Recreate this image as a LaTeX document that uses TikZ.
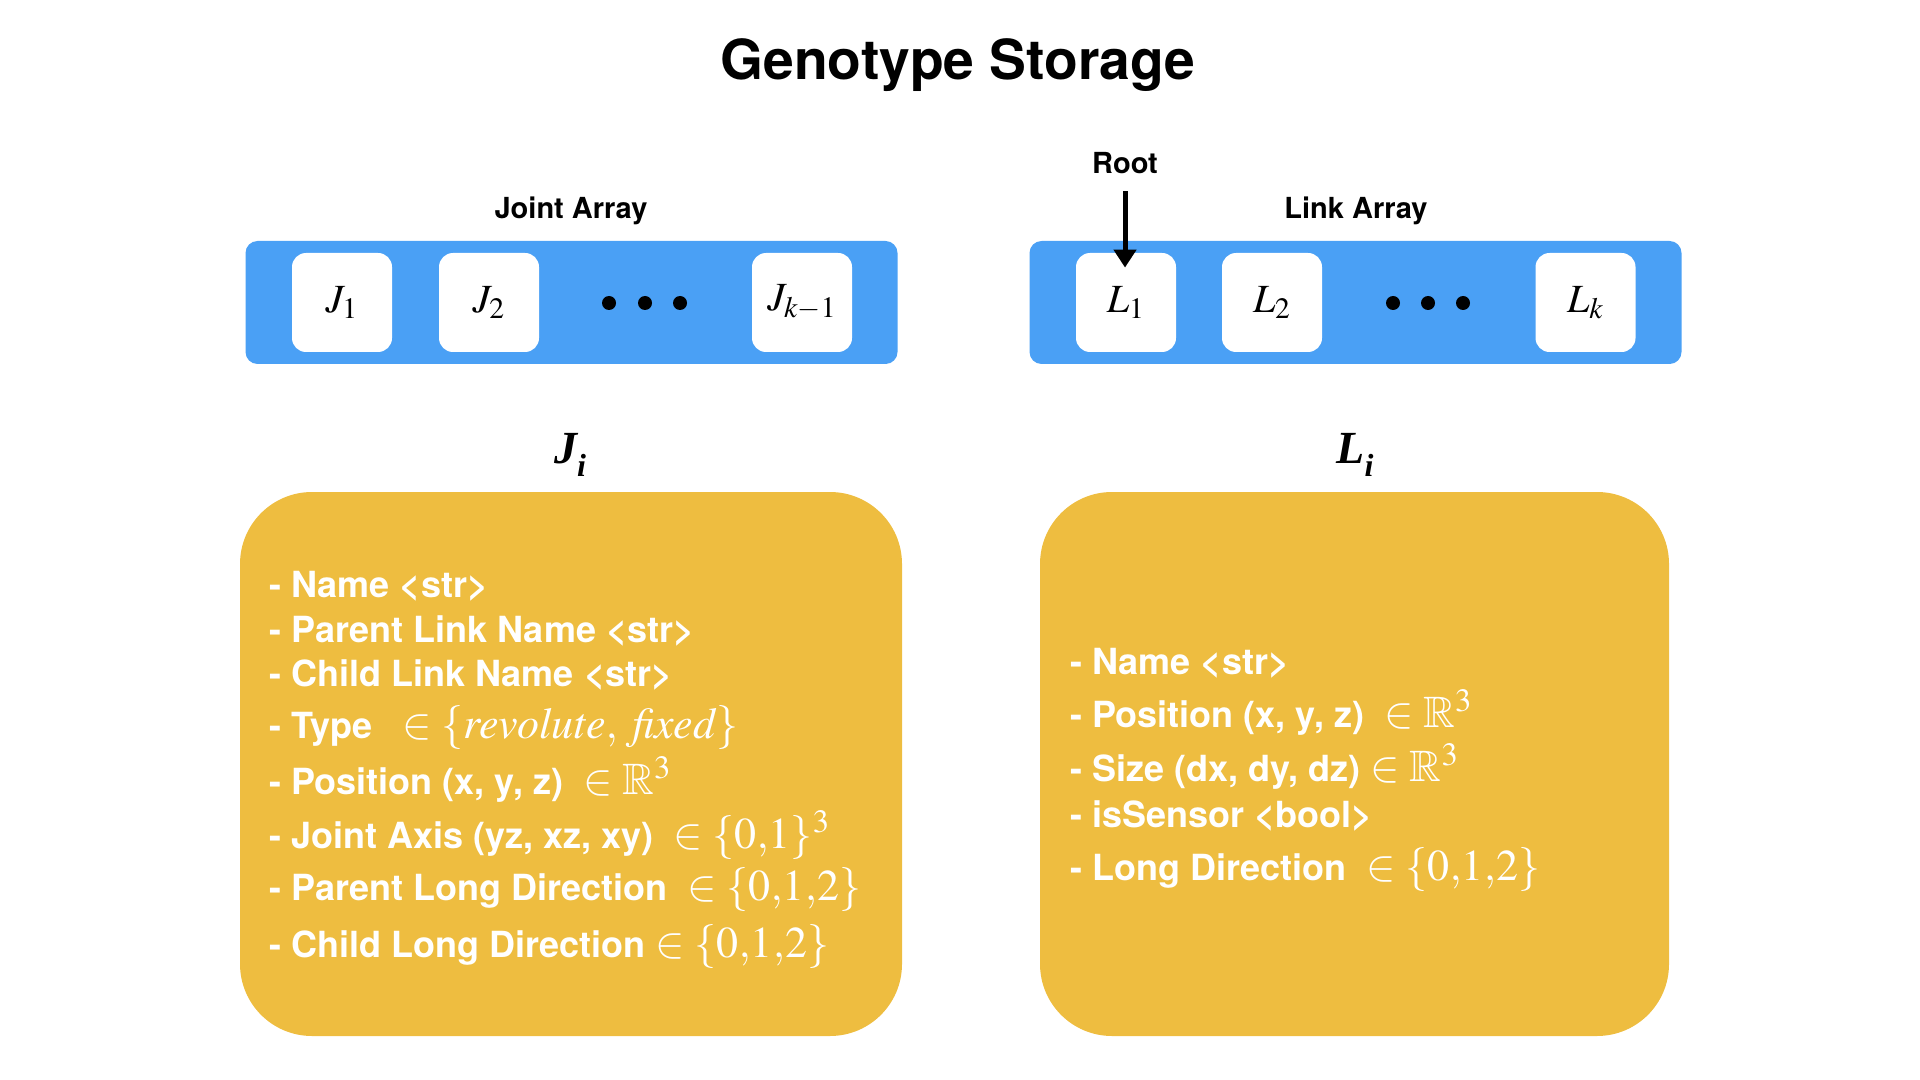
\documentclass[tikz,border=0pt]{standalone}
\usepackage{amsmath,amssymb}
\usepackage{mathptmx}
\usepackage[no-math]{fontspec}
\setmainfont{TeX Gyre Heros}
\newfontfamily\recfont{Liberation Serif}
\usepackage{xcolor}
\usepackage{tikz}
\usetikzlibrary{arrows.meta,positioning}
\definecolor{arrblue}{HTML}{4AA0F5}
\definecolor{recgold}{HTML}{EEBD40}
\newcommand{\mth}[1]{{\fontsize{22}{26}\selectfont$#1$}}
\newcommand{\rectitle}[1]{{\recfont\bfseries\itshape #1\raisebox{-0.3em}{\fontsize{16}{18}\selectfont i}}}

\begin{document}
\begin{tikzpicture}[x=0.5pt,y=-0.5pt,
  arr/.style={rectangle,rounded corners=6pt,fill=arrblue,minimum width=326pt,minimum height=61.5pt,inner sep=0pt},
  cell/.style={rectangle,rounded corners=7pt,fill=white,minimum width=50pt,minimum height=49.5pt,inner sep=0pt,font=\fontsize{20}{24}\selectfont},
  rec/.style={rectangle,rounded corners=36pt,fill=recgold,minimum height=272pt,inner sep=0pt},
  lbl/.style={font=\fontsize{14.5}{17}\selectfont\bfseries,anchor=base},
  fld/.style={anchor=base west,inner sep=0pt,text=white,font=\fontsize{18}{22}\selectfont\bfseries}]
 \useasboundingbox (0,0) rectangle (1920,1080);
 \node[font=\fontsize{27.6}{32}\selectfont\bfseries,anchor=base] (title) at (958,80) {Genotype Storage};
 % arrays
 \node[arr] (jarr) at (571.5,302.5) {};
 \node[arr] (larr) at (1355.5,302.5) {};
 \node[lbl] (jlab) at (571,219) {Joint Array};
 \node[lbl] (llab) at (1356,219) {Link Array};
 \node[cell] (j1) at (342,302.5) {$J_1$};
 \node[cell] (j2) at (489,302.5) {$J_2$};
 \node[cell] (jk) at (802,302.5) {$J_{k-1}$};
 \node[cell] (l1) at (1126,302.5) {$L_1$};
 \node[cell] (l2) at (1272,302.5) {$L_2$};
 \node[cell] (lk) at (1585.5,302.5) {$L_k$};
 \foreach \x in {609,645,680,1393,1428,1463} \fill (\x,303) circle[radius=3.5pt];
 \node[lbl] (root) at (1125,174) {Root};
 \draw[-{Triangle[length=9pt,width=11pt]},line width=2.5pt,shorten <=5pt,shorten >=-7.5pt]
   (root.south) -- (root.south |- l1.north);
 % records
 \node[font=\fontsize{23}{26}\selectfont,anchor=base] (jtit) at (570,463) {\rectitle{J}};
 \node[font=\fontsize{23}{26}\selectfont,anchor=base] (ltit) at (1355,463) {\rectitle{L}};
 \node[rec,minimum width=331pt] (jrec) at (571,764) {};
 \node[rec,minimum width=314.5pt] (lrec) at (1354.5,764) {};
 \node[fld] (jf1) at (269,597) {- Name <str>};
 \node[fld] (jf2) at (269,642) {- Parent Link Name <str>};
 \node[fld] (jf3) at (269,686) {- Child Link Name <str>};
 \node[fld] (jf4) at (269,738) {- Type~~~\mth{\in \{\mathit{revolute},\;\mathit{fixed}\}}};
 \node[fld] (jf5) at (269,794) {- Position (x, y, z)~~\mth{\in\mathbb{R}^3}};
 \node[fld] (jf6) at (269,848) {- Joint Axis (yz, xz, xy)~~\mth{\in\{0{,}1\}^3}};
 \node[fld] (jf7) at (269,900) {- Parent Long Direction~~\mth{\in\{0{,}1{,}2\}}};
 \node[fld] (jf8) at (269,957) {- Child Long Direction \mth{\in\{0{,}1{,}2\}}};
 \node[fld] (lf1) at (1070,674) {- Name <str>};
 \node[fld] (lf2) at (1070,727) {- Position (x, y, z)~~\mth{\in\mathbb{R}^3}};
 \node[fld] (lf3) at (1070,781) {- Size (dx, dy, dz) \mth{\in\mathbb{R}^3}};
 \node[fld] (lf4) at (1070,827) {- isSensor <bool>};
 \node[fld] (lf5) at (1070,880) {- Long Direction~~\mth{\in\{0{,}1{,}2\}}};
\end{tikzpicture}
\end{document}
